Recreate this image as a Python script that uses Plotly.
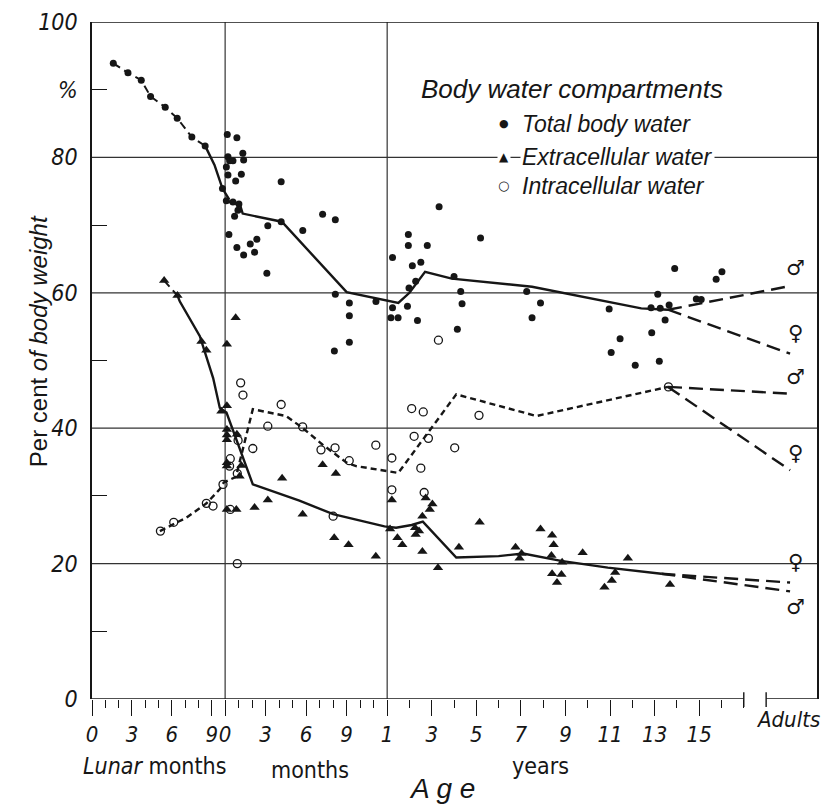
import plotly.graph_objects as go

# ---------------- data ----------------
# Age codes: "L<lunar months>" (fetal), "M<months>" (first year), "Y<years>", "A" (adults)
tbw_age = ["L1.6", "L2.7", "L3.7", "L4.4", "L5.5", "L6.4", "L7.5", "L8.5", "L9.8",
           "M0.16", "M0.87", "M1.31", "M1.37", "M0.21", "M0.33", "M0.58", "M0.09", "M0.21", "M1.2", "M0.78", "M4.15",
           "M0.09", "M0.58", "M1.02", "M0.95", "M0.7", "M3.16", "M4.15", "M7.22", "M8.16", "M5.75",
           "M0.28", "M0.87", "M1.37", "M1.86", "M2.35", "M2.18", "M3.09",
           "M8.16", "M9.2", "M9.2", "M9.2", "M8.09", "M11.17",
           "Y1.24", "Y1.24", "Y1.17", "Y1.49", "Y1.91", "Y1.98", "Y2.28", "Y2.13", "Y2.51", "Y1.95", "Y1.95", "Y2.8", "Y2.36",
           "Y3.33", "Y4.0", "Y4.3", "Y4.36", "Y4.15", "Y5.19",
           "Y7.26", "Y7.88", "Y7.5",
           "Y10.96", "Y11.45", "Y11.05", "Y12.13", "Y12.87", "Y13.21", "Y13.14", "Y12.84", "Y13.25", "Y13.65",
           "Y13.47", "Y13.9", "Y14.87", "Y15.09", "Y15.76", "Y16.02"]
tbw_val = [93.9, 92.5, 91.4, 89.0, 87.4, 85.8, 83.0, 81.7, 75.4,
           83.4, 82.9, 80.6, 79.6, 80.1, 79.5, 79.5, 78.6, 77.4, 77.5, 76.5, 76.4,
           73.6, 73.4, 73.1, 72.2, 71.3, 69.9, 70.5, 71.6, 70.8, 69.2,
           68.6, 66.7, 65.6, 67.2, 67.9, 66.0, 62.9,
           59.8, 58.5, 56.6, 52.7, 51.4, 58.7,
           65.2, 57.8, 56.3, 56.3, 58.0, 60.7, 61.7, 64.0, 64.5, 67.0, 68.6, 67.0, 55.9,
           72.7, 62.4, 60.2, 58.4, 54.6, 68.1,
           60.2, 58.5, 56.3,
           57.6, 53.2, 51.2, 49.3, 54.1, 49.9, 59.8, 57.8, 57.7, 58.2,
           56.0, 63.6, 59.1, 59.0, 62.0, 63.1]

ecw_age = ["L5.42", "L6.42", "L8.22", "L8.59", "L9.72",
           "M0.13", "M0.78", "M0.13", "M0.13", "M0.13", "M0.13", "M0.87", "M0.13", "M0.13", "M1.2", "M1.07", "M0.13",
           "M0.83", "M2.18", "M3.16", "M4.22", "M5.74", "M7.22", "M8.2", "M8.08", "M9.14", "M11.16",
           "Y1.21", "Y1.13", "Y1.46", "Y1.68", "Y2.25", "Y2.43", "Y2.28", "Y2.58", "Y2.73", "Y2.91", "Y3.03", "Y2.58",
           "Y3.28", "Y4.22", "Y5.15",
           "Y6.76", "Y6.94", "Y7.03", "Y7.88", "Y8.40", "Y8.47", "Y8.37", "Y8.85", "Y8.40", "Y8.82", "Y8.62", "Y9.77",
           "Y11.23", "Y11.08", "Y10.75", "Y11.80", "Y13.69"]
ecw_val = [61.8, 59.6, 52.8, 51.5, 42.5,
           43.3, 56.3, 52.4, 39.8, 39.0, 38.3, 39.1, 34.9, 34.4, 34.5, 32.9, 28.0,
           28.0, 28.3, 29.4, 32.6, 27.3, 34.6, 33.3, 23.8, 22.8, 21.1,
           29.4, 25.1, 23.8, 22.8, 25.3, 24.8, 24.3, 27.0, 29.7, 28.0, 28.8, 21.8,
           19.4, 22.4, 26.1,
           22.4, 20.8, 21.5, 25.1, 24.2, 22.8, 21.2, 20.2, 18.5, 18.4, 17.2, 21.6,
           18.7, 17.5, 16.5, 20.8, 16.9]

icw_age = ["L5.14", "L6.14", "L8.59", "L9.09", "L9.84",
           "M0.38", "M0.33", "M0.9", "M0.38", "M0.9", "M0.96", "M1.15", "M1.32", "M2.05", "M3.16", "M4.15", "M5.74",
           "M7.1", "M8.14", "M8.0", "M9.19", "M11.16",
           "Y1.21", "Y1.21", "Y2.1", "Y2.62", "Y2.21", "Y2.85", "Y2.51", "Y2.66", "Y3.3", "Y4.03", "Y5.12", "Y13.62"]
icw_val = [24.8, 26.1, 28.9, 28.5, 31.7,
           35.5, 34.4, 33.3, 28.0, 20.0, 38.2, 46.7, 44.9, 37.0, 40.3, 43.5, 40.2,
           36.8, 37.1, 27.0, 35.2, 37.5,
           35.6, 30.9, 42.9, 42.4, 38.8, 38.5, 34.1, 30.5, 53.0, 37.1, 41.9, 46.1]

# mean curves
tbw_fetal_dash_age = ["L1.6", "L2.7", "L3.7", "L4.4", "L5.5", "L6.4", "L7.5", "L8.5"]
tbw_fetal_dash_val = [93.9, 92.5, 91.4, 89.0, 87.4, 85.8, 83.0, 81.7]
tbw_fetal_solid_age = ["L8.5", "L9.2", "L9.8", "M0.3"]
tbw_fetal_solid_val = [81.7, 78.9, 75.4, 73.8]
tbw_mean_age = ["M0", "M1.1", "M1.3", "M4.2", "M9.0", "M11.2", "Y1.5", "Y2.0", "Y2.7", "Y3.9", "Y7.5", "Y12.4", "Y13.6"]
tbw_mean_val = [73.6, 73.0, 71.7, 70.5, 60.1, 59.2, 58.5, 60.0, 63.1, 62.1, 60.9, 57.7, 57.5]
tbw_male_age, tbw_male_val = ["Y13.6", "A"], [57.5, 61.0]
tbw_female_age, tbw_female_val = ["Y13.6", "A"], [57.5, 51.0]

icw_mean_age = ["L5.1", "L6.1", "L7.1", "L8.6", "L9.6", "L9.9", "M0.8", "M2.05", "M4.5", "M5.7", "M7.2", "M9.0",
                "M9.7", "Y1.5", "Y4.1", "Y7.7", "Y13.6"]
icw_mean_val = [24.8, 25.8, 26.8, 28.9, 31.0, 32.0, 32.8, 42.8, 41.8, 40.1, 37.6, 34.9,
                34.4, 33.4, 45.0, 41.8, 46.1]
icw_male_age, icw_male_val = ["Y13.6", "A"], [46.1, 45.1]
icw_female_age, icw_female_val = ["Y13.6", "A"], [46.1, 33.8]

ecw_fetal_dash_age, ecw_fetal_dash_val = ["L5.42", "L6.42"], [61.8, 59.6]
ecw_mean_age = ["L6.42", "L6.6", "L8.1", "L9.1", "L9.6", "M0.1", "M2.05", "M5.5", "M8.0", "M11.8", "Y1.4", "Y2.1",
                "Y2.6", "Y4.1", "Y6.0", "Y7.1", "Y8.8", "Y10.9", "Y13.3"]
ecw_mean_val = [59.6, 58.7, 53.6, 47.4, 43.0, 42.3, 31.7, 29.3, 27.3, 25.5, 25.3, 25.7,
                26.2, 20.9, 21.1, 21.5, 20.4, 19.4, 18.5]
ecw_female_age, ecw_female_val = ["Y13.3", "A"], [18.5, 17.2]
ecw_male_age, ecw_male_val = ["Y13.3", "A"], [18.5, 15.9]

# tick labels
lunar_ticks = [0, 3, 6, 9]
month_ticks = [0, 3, 6, 9]
year_ticks = [1, 3, 5, 7, 9, 11, 13, 15]
y_labels = [0, 20, 40, 60, 80, 100]

# ---------------- piecewise age scale ----------------
LW, MW, YW = 13.35, 13.54, 22.35
ADULT_POS = 700.0
ADULT_SEG = (676.0, 727.0)
X_MAX = 727.0


def pos(code):
    k = code[0]
    v = float(code[1:]) if len(code) > 1 else 0.0
    if k == "L":
        return v * LW
    if k == "M":
        return 10 * LW + v * MW
    if k == "Y":
        return 10 * LW + 12 * MW + (v - 1) * YW
    return ADULT_POS


def P(lst):
    return [pos(c) for c in lst]


INK = "#161616"
NARROW = "Liberation Sans Narrow, DejaVu Sans Condensed, Liberation Sans, sans-serif"
REG = "Liberation Sans, DejaVu Sans, sans-serif"

fig = go.Figure()


def line(ages, vals, dash="solid", width=2.4):
    fig.add_trace(go.Scatter(x=P(ages), y=vals, mode="lines",
                             line=dict(color=INK, width=width, dash=dash),
                             hoverinfo="skip", showlegend=False))


LONG = "14px,7px"
SHORT = "6px,4px"
line(tbw_fetal_dash_age, tbw_fetal_dash_val, dash="8px,5px", width=2.0)
line(tbw_fetal_solid_age, tbw_fetal_solid_val)
line(tbw_mean_age, tbw_mean_val)
line(tbw_male_age, tbw_male_val, dash=LONG)
line(tbw_female_age, tbw_female_val, dash=LONG)
line(icw_mean_age, icw_mean_val, dash=SHORT)
line(icw_male_age, icw_male_val, dash=LONG)
line(icw_female_age, icw_female_val, dash=LONG)
line(ecw_fetal_dash_age, ecw_fetal_dash_val, dash="8px,5px", width=2.0)
line(ecw_mean_age, ecw_mean_val)
line(ecw_female_age, ecw_female_val, dash=LONG)
line(ecw_male_age, ecw_male_val, dash=LONG)

fig.add_trace(go.Scatter(x=P(tbw_age), y=tbw_val, mode="markers", name="Total body water",
                         marker=dict(symbol="circle", size=7, color=INK), showlegend=False))
fig.add_trace(go.Scatter(x=P(ecw_age), y=ecw_val, mode="markers", name="Extracellular water",
                         marker=dict(symbol="triangle-up", size=9, color=INK), showlegend=False))
fig.add_trace(go.Scatter(x=P(icw_age), y=icw_val, mode="markers", name="Intracellular water",
                         marker=dict(symbol="circle-open", size=8, color=INK, line=dict(width=1.3, color=INK)),
                         showlegend=False))

# ---------------- axes ----------------
major_vals = [pos(f"L{v}") for v in lunar_ticks] + [pos(f"M{v}") for v in month_ticks] + \
             [pos(f"Y{v}") for v in year_ticks]
major_text = [str(v) for v in lunar_ticks] + [str(v) for v in month_ticks] + [str(v) for v in year_ticks]
minor_vals = [pos(f"L{v}") for v in range(1, 10) if v not in lunar_ticks] + \
             [pos(f"M{v}") for v in range(1, 12) if v not in month_ticks] + \
             [pos(f"Y{v}") for v in range(2, 18) if v not in year_ticks]

fig.update_xaxes(range=[0, X_MAX], showgrid=False, zeroline=False, showline=False,
                 tickmode="array", tickvals=major_vals, ticktext=major_text, tickangle=0,
                 ticks="outside", ticklen=16, tickwidth=1.3, tickcolor=INK,
                 tickfont=dict(family=NARROW, size=22, color=INK, style="italic"),
                 minor=dict(tickmode="array", tickvals=minor_vals, ticks="outside", ticklen=8,
                            tickwidth=1.2, tickcolor=INK, showgrid=False))
fig.update_yaxes(range=[0, 100], showgrid=False, zeroline=False, showline=True, linewidth=1.5,
                 linecolor=INK, mirror=True,
                 tickmode="array", tickvals=y_labels + [90], ticktext=[str(v) for v in y_labels] + ["%"],
                 ticks="", ticklabelstandoff=8,
                 tickfont=dict(family=NARROW, size=23, color=INK, style="italic"),
                 minor=dict(tickmode="array", tickvals=[10, 30, 50, 70, 90], ticks="inside", ticklen=15,
                            tickwidth=1.2, tickcolor=INK, showgrid=False))

shapes = []
for g in [20, 40, 60, 80]:
    shapes.append(dict(type="line", xref="paper", x0=0, x1=1, yref="y", y0=g, y1=g,
                       line=dict(color="#333", width=1.2), layer="below"))
for v in [pos("M0"), pos("Y1")]:
    shapes.append(dict(type="line", xref="x", x0=v, x1=v, yref="y", y0=0, y1=100,
                       line=dict(color="#333", width=1.2), layer="below"))
# top border
shapes.append(dict(type="line", xref="paper", x0=0, x1=1, yref="y", y0=100, y1=100,
                   line=dict(color=INK, width=1.5)))
# broken age axis
shapes.append(dict(type="line", xref="x", x0=0, x1=pos("Y17"), yref="y", y0=0, y1=0,
                   line=dict(color=INK, width=1.6)))
shapes.append(dict(type="line", xref="x", x0=ADULT_SEG[0], x1=ADULT_SEG[1], yref="y", y0=0, y1=0,
                   line=dict(color=INK, width=1.6)))
for v in [pos("Y17"), ADULT_SEG[0]]:
    shapes.append(dict(type="line", xref="x", x0=v, x1=v, yref="paper", y0=-0.012, y1=0.010,
                       line=dict(color=INK, width=1.4)))
fig.update_layout(shapes=shapes)

# ---------------- texts ----------------
ann = []


def txt(x, y, s, size=22, xref="paper", yref="paper", xanchor="center", yanchor="middle",
        family=NARROW, angle=0, bg=None):
    d = dict(x=x, y=y, xref=xref, yref=yref, text=s, showarrow=False, xanchor=xanchor, yanchor=yanchor,
             font=dict(family=family, size=size, color=INK), textangle=angle)
    if bg:
        d["bgcolor"] = bg
    ann.append(d)


W, H, L0, T0 = 727.0, 679.0, 92.0, 20.0


def px(xp, yp):
    return (xp - L0) / W, 1 - (yp - T0) / H


x, y = px(420, 87)
txt(x, y, "<i>Body water compartments</i>", size=26, xanchor="left", family=REG)
legend_rows = [("●", 11, "Total body water", 122), ("▲", 12, "Extracellular water", 155),
               ("○", 13, "Intracellular water", 184)]
for sym, ssz, label, yy in legend_rows:
    x, y = px(505, yy)
    txt(x, y, sym, size=ssz, xanchor="center", family="DejaVu Sans", bg="white")
    x, y = px(521, yy)
    txt(x, y, f"<i>{label}</i>", size=23, xanchor="left", family=REG, bg="white")

# sex symbols at adult end
for s, v in [("♂", 63.6), ("♀", 54.0), ("♂", 47.6), ("♀", 36.3), ("♀", 20.3), ("♂", 13.6)]:
    txt(ADULT_POS + 5, v, s, size=21, xref="x", yref="y", family="DejaVu Sans")

x, y = px(38, 340)
txt(x, y, "Per cent <i>of body weight</i>", size=24, angle=-90, family=REG)
x, y = px(790, 720)
txt(x, y, "<i>Adults</i>", size=22)
x, y = px(155, 766)
txt(x, y, "<i>Lunar</i> months", size=23)
x, y = px(311, 770)
txt(x, y, "months", size=23)
x, y = px(542, 766)
txt(x, y, "years", size=23)
x, y = px(443, 789)
txt(x, y, "<i>A g e</i>", size=28, family=REG)

fig.update_layout(annotations=ann, width=828, height=805,
                  margin=dict(l=92, r=9, t=20, b=106),
                  paper_bgcolor="white", plot_bgcolor="white", showlegend=False)

fig.write_html("out.html")
